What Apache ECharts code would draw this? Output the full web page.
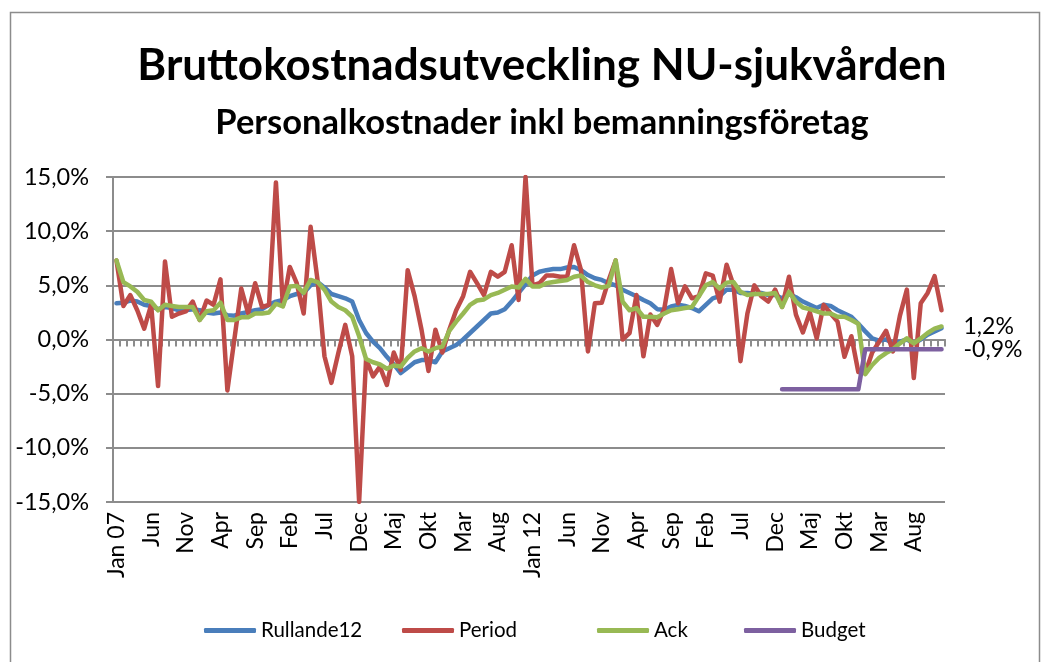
<!DOCTYPE html>
<html>
<head>
<meta charset="utf-8">
<script src="https://cdn.jsdelivr.net/npm/echarts@6/dist/echarts.min.js"></script>
<style>
html,body{margin:0;padding:0;background:#fff;}
#chart{width:1050px;height:662px;}
</style>
</head>
<body>
<div id="chart"></div>
<script>
const months = ['Jan','Feb','Mar','Apr','Maj','Jun','Jul','Aug','Sep','Okt','Nov','Dec'];
const years = ['07','08','09','10','11','12','13','14','15','16'];
const categories = [];
years.forEach(function (y) { months.forEach(function (m, i) { categories.push(i === 0 ? 'Jan ' + y : m); }); });

const rullande12 = [
  3.35, 3.4, 3.6, 3.5, 3.2, 3.1, 2.8, 3.0, 2.9, 2.7, 2.7, 2.8,
  2.7, 2.5, 2.4, 2.5, 2.25, 2.2, 2.4, 2.55, 2.7, 2.8, 3.2, 3.5,
  3.65, 4.0, 4.2, 4.3, 5.0, 5.3, 4.8, 4.2, 4.0, 3.8, 3.5, 1.8,
  0.6, -0.2, -0.8, -1.6, -2.3, -3.1, -2.6, -2.1, -1.9, -1.9, -2.1, -1.1,
  -0.8, -0.5, 0.0, 0.6, 1.2, 1.8, 2.4, 2.5, 2.8, 3.5, 4.3, 5.1,
  5.9, 6.25, 6.4, 6.5, 6.5, 6.65, 6.7, 6.4, 5.95, 5.65, 5.5, 5.2,
  5.0, 4.6, 4.3, 4.0, 3.65, 3.35, 2.8, 2.75, 3.05, 3.2, 3.1, 2.9,
  2.6, 3.2, 3.8, 4.0, 4.6, 4.6, 4.3, 4.3, 4.2, 4.3, 4.1, 4.1,
  3.8, 4.2, 3.9, 3.5, 3.2, 2.9, 3.2, 3.1, 2.7, 2.4, 2.1, 1.45,
  0.75, 0.1, -0.1, 0.0, -0.35, -0.2, 0.0, -0.35, 0.0, 0.45, 0.75, 1.05
];
const period = [
  7.3, 3.1, 4.1, 2.7, 1.0, 3.2, -4.3, 7.2, 2.1, 2.4, 2.6, 3.5,
  1.8, 3.6, 3.2, 5.55, -4.7, 0.0, 4.7, 2.4, 5.2, 3.0, 3.2, 14.5,
  3.1, 6.7, 5.2, 2.4, 10.4, 5.5, -1.55, -4.0, -1.25, 1.35, -1.55, -15.0,
  -1.8, -3.4, -2.5, -4.2, -1.2, -2.8, 6.4, 4.0, 0.9, -2.9, 0.9, -1.2,
  0.9, 2.7, 4.0, 6.25, 5.2, 4.1, 6.25, 5.8, 6.25, 8.7, 3.65, 15.0,
  5.0, 5.2, 5.9, 5.9, 5.8, 5.8, 8.7, 6.4, -1.1, 3.35, 3.4, 5.5,
  7.3, 0.0, 0.6, 4.1, -1.55, 2.3, 1.35, 2.8, 6.5, 3.35, 4.9, 3.8,
  4.0, 6.1, 5.9, 3.5, 6.9, 5.0, -2.0, 2.4, 5.0, 4.0, 3.5, 4.6,
  3.0, 5.8, 2.3, 0.65, 2.5, 0.1, 3.2, 2.4, 1.65, -1.6, 0.3, -3.0,
  -3.1, -1.2, -0.2, 0.8, -1.1, 2.2, 4.6, -3.55, 3.35, 4.3, 5.85, 2.7
];
const ack = [
  7.3, 5.3, 4.9, 4.4, 3.65, 3.5, 2.7, 3.2, 3.1, 3.0, 3.0, 3.0,
  1.8, 2.6, 2.7, 3.4, 1.8, 1.8, 2.05, 2.05, 2.4, 2.4, 2.5, 3.3,
  3.05, 4.9, 4.95, 4.3, 5.5, 5.3, 4.6, 3.5, 3.0, 2.7, 2.1, 0.3,
  -1.8, -2.1, -2.3, -2.7, -2.4, -2.5, -1.7, -1.1, -0.8, -1.1, -0.8, -0.65,
  0.8, 1.65, 2.4, 3.2, 3.6, 3.7, 4.1, 4.3, 4.6, 4.9, 4.8, 5.6,
  4.9, 4.9, 5.2, 5.3, 5.4, 5.5, 5.8, 5.9, 5.3, 5.0, 4.8, 4.95,
  7.3, 3.5, 2.7, 2.9, 2.1, 2.1, 2.05, 2.4, 2.7, 2.8, 2.9, 3.0,
  4.0, 5.0, 5.3, 4.7, 5.25, 5.3, 4.4, 4.1, 4.2, 4.2, 4.2, 4.3,
  3.0, 4.4, 3.5, 2.95, 2.8, 2.6, 2.4, 2.4, 2.1, 2.1, 1.8, 1.45,
  -3.2, -2.35, -1.7, -1.25, -0.9, -0.35, 0.1, -0.35, 0.1, 0.6, 1.0, 1.2
];
// Budget exists only for 2015 and 2016 (last 24 months)
const budgetValues = [
  -4.6, -4.6, -4.6, -4.6, -4.6, -4.6, -4.6, -4.6, -4.6, -4.6, -4.6, -4.6,
  -0.9, -0.9, -0.9, -0.9, -0.9, -0.9, -0.9, -0.9, -0.9, -0.9, -0.9, -0.9
];
const budget = categories.map(function (c, i) {
  const k = i - (categories.length - budgetValues.length);
  return k >= 0 ? budgetValues[k] : null;
});
const yTicks = [-15, -10, -5, 0, 5, 10, 15];

const FONT = 'Lato';
const GRID_COLOR = '#8c8c8c';
function pct(v) { return Number(v).toFixed(1).replace('.', ',') + '%'; }

const chart = echarts.init(document.getElementById('chart'), null, { renderer: 'canvas' });

function lineSeries(name, data, color, extra) {
  return Object.assign({
    name: name,
    type: 'line',
    data: data,
    xAxisIndex: 0,
    yAxisIndex: 0,
    showSymbol: false,
    symbol: 'none',
    connectNulls: false,
    lineStyle: { color: color, width: 4.5, cap: 'round', join: 'round' },
    itemStyle: { color: color },
    emphasis: { disabled: true }
  }, extra || {});
}

const option = {
  animation: false,
  backgroundColor: '#ffffff',
  graphic: [{
    type: 'rect',
    shape: { x: 10.5, y: 12.5, width: 1029, height: 670 },
    style: { fill: 'none', stroke: '#8c8c8c', lineWidth: 1.5 },
    silent: true
  }],
  title: [{
    text: 'Bruttokostnadsutveckling NU-sjukvården',
    left: 537, textAlign: 'center', top: 39,
    textStyle: { fontFamily: FONT, fontWeight: 'bold', fontSize: 44, color: '#000' }
  }, {
    text: 'Personalkostnader inkl bemanningsföretag',
    left: 537, textAlign: 'center', top: 100,
    textStyle: { fontFamily: FONT, fontWeight: 'bold', fontSize: 34.5, color: '#000' }
  }],
  legend: [
    { data: ['Rullande12'], left: 199 },
    { data: ['Period'], left: 397 },
    { data: ['Ack'], left: 592 },
    { data: ['Budget'], left: 739 }
  ].map(function (l) {
    return Object.assign({
      top: 615, icon: 'roundRect', itemWidth: 52, itemHeight: 5, itemGap: 0,
      selectedMode: false,
      textStyle: { fontFamily: FONT, fontSize: 20.5, color: '#000' }
    }, l);
  }),
  grid: { left: 113, right: 105, top: 177, bottom: 160, containLabel: false },
  xAxis: [{
    type: 'category',
    data: categories,
    boundaryGap: true,
    position: 'bottom',
    axisLine: { show: false, onZero: false },
    axisTick: { show: false },
    splitLine: { show: false },
    axisLabel: {
      interval: 4, rotate: 90, margin: 10,
      fontFamily: FONT, fontSize: 23, color: '#000'
    }
  }, {
    type: 'category',
    data: categories,
    boundaryGap: true,
    position: 'bottom',
    axisLine: { show: true, onZero: true, onZeroAxisIndex: 0, lineStyle: { color: GRID_COLOR, width: 2 } },
    axisTick: { show: true, interval: 0, length: 7, lineStyle: { color: GRID_COLOR, width: 2 } },
    axisLabel: { show: false },
    splitLine: { show: false }
  }],
  yAxis: [{
    type: 'value',
    min: yTicks[0], max: yTicks[yTicks.length - 1], interval: 5,
    axisLine: { show: true, lineStyle: { color: GRID_COLOR, width: 2 } },
    axisTick: { show: true, length: 7, lineStyle: { color: GRID_COLOR, width: 2 } },
    splitLine: { show: true, lineStyle: { color: GRID_COLOR, width: 2 } },
    axisLabel: {
      margin: 24, formatter: pct,
      fontFamily: FONT, fontSize: 23.5, color: '#000'
    }
  }],
  series: [
    lineSeries('Rullande12', rullande12, '#4a7ebb'),
    lineSeries('Period', period, '#be4b48'),
    lineSeries('Ack', ack, '#98b954', {
      endLabel: { show: true, formatter: function (p) { return pct(p.value); }, distance: 22,
        fontFamily: FONT, fontSize: 23, color: '#000' }
    }),
    lineSeries('Budget', budget, '#7d60a0', {
      endLabel: { show: true, formatter: function (p) { return pct(p.value); }, distance: 22,
        fontFamily: FONT, fontSize: 23, color: '#000' }
    })
  ]
};
chart.setOption(option);
</script>
</body>
</html>
